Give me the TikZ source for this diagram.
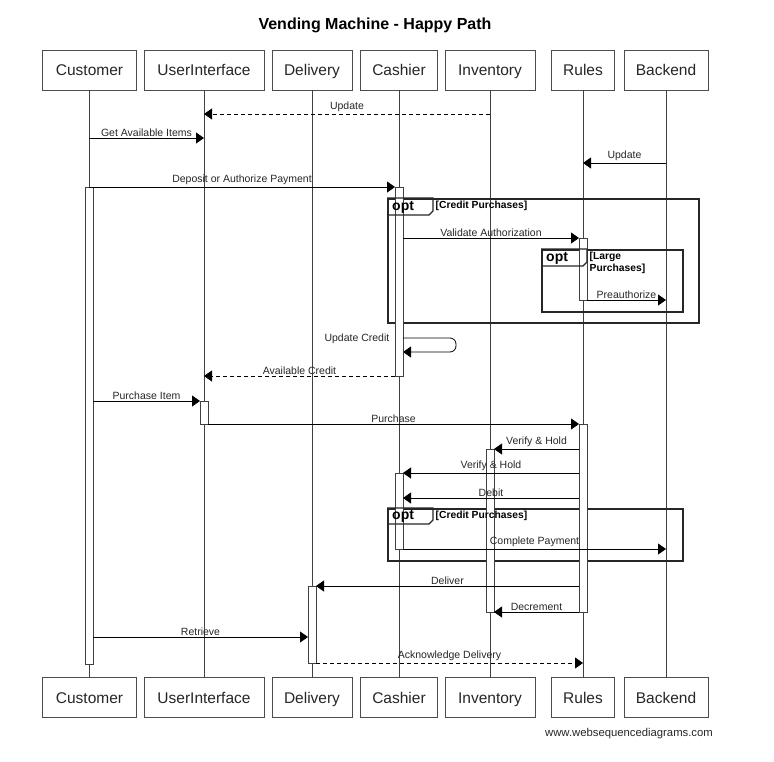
\documentclass[tikz,border=0pt]{standalone}
\usepackage{fontspec}
\setmainfont{Liberation Sans}
\usetikzlibrary{arrows.meta,positioning,calc}
\tikzset{
  actor box/.style = {
    shape = rectangle,
    align = center,
    draw  = black!70,
    fill  = white,
    minimum width = #1,
    minimum height = 40pt,
    inner sep = 0pt,
    text height = 11pt,
    text depth = 0pt,
    text = black!85,
    font = \fontsize{15.5}{18}\selectfont},
  act bar/.style = {
    draw = black!75,
    fill = white,
    minimum width = 8pt,
    minimum height = #1,
    inner sep = 0pt,
    anchor = north},
  lifeline/.style = {draw = black!75, line width = 0.8pt},
  msg/.style = {draw = black, line width = 0.8pt, ->},
  reply/.style = {msg, dash pattern = on 4pt off 3pt},
  lbl/.style = {above, inner sep = 1.5pt, text = black!85,
    font = \fontsize{10.5}{12}\selectfont},
  opt frame/.style = {
    draw = black!85, line width = 1.6pt,
    minimum width = #1, inner sep = 0pt, anchor = north west},
  opt tab/.style = {draw = black!85, line width = 1.2pt},
  opt text/.style = {anchor = west, inner sep = 0pt,
    font = \bfseries\fontsize{14}{16}\selectfont},
  guard/.style = {anchor = north west, inner sep = 0.5pt, align = left,
    font = \bfseries\fontsize{10.3}{12}\selectfont}
}

\begin{document}
\begin{tikzpicture}[x = 1pt, y = -1pt, >={Triangle[length = 8pt, width = 11pt]}]
  \useasboundingbox (0,0) rectangle (774,761);
  \node[font = \bfseries\fontsize{16}{19}\selectfont] (title) at (375,25) {Vending Machine - Happy Path};

  % participants
  \node[actor box = 94pt]  (custtop)  at (89.5,70) {Customer};
  \node[actor box = 120pt] (uitop)    at (204,70)  {UserInterface};
  \node[actor box = 80pt]  (delitop)  at (312,70)  {Delivery};
  \node[actor box = 77pt]  (cashtop)  at (399,70)  {Cashier};
  \node[actor box = 90pt]  (invtop)   at (490,70)  {Inventory};
  \node[actor box = 63pt]  (rulestop) at (583,70)  {Rules};
  \node[actor box = 84pt]  (backtop)  at (666,70)  {Backend};
  \node[actor box = 94pt]  (custbot)  at (89.5,697.5) {Customer};
  \node[actor box = 120pt] (uibot)    at (204,697.5)  {UserInterface};
  \node[actor box = 80pt]  (delibot)  at (312,697.5)  {Delivery};
  \node[actor box = 77pt]  (cashbot)  at (399,697.5)  {Cashier};
  \node[actor box = 90pt]  (invbot)   at (490,697.5)  {Inventory};
  \node[actor box = 63pt]  (rulesbot) at (583,697.5)  {Rules};
  \node[actor box = 84pt]  (backbot)  at (666,697.5)  {Backend};
  \draw[lifeline] (custtop) -- (custbot);
  \draw[lifeline] (uitop) -- (uibot);
  \draw[lifeline] (delitop) -- (delibot);
  \draw[lifeline] (cashtop) -- (cashbot);
  \draw[lifeline] (invtop) -- (invbot);
  \draw[lifeline] (rulestop) -- (rulesbot);
  \draw[lifeline] (backtop) -- (backbot);

  % opt frames
  \node[opt frame = 311pt, minimum height = 124pt] (optcredA) at (387,198) {};
  \node[opt frame = 141pt, minimum height = 62pt] (optlarge) at (541,249) {};
  \node[opt frame = 295pt, minimum height = 52pt] (optcredB) at (387,508) {};

  % activations
  \node[act bar = 477pt] (custact)  at (89,187)  {};
  \node[act bar = 189pt] (cashactA) at (399,187) {};
  \node[act bar = 62pt]  (rulesactA) at (583,238) {};
  \node[act bar = 23pt]  (uiact)    at (204,401) {};
  \node[act bar = 188pt] (rulesactB) at (583,424) {};
  \node[act bar = 163pt] (invact)   at (490,449) {};
  \node[act bar = 76pt]  (cashactB) at (399,473) {};
  \node[act bar = 77pt]  (deliact)  at (312,586) {};

  % opt tabs on top
  \draw[opt tab] (optcredA.north west) -- ++(46,0) -- ++(0,13) -- ++(-4,4) -- ++(-42,0);
  \node[opt text] (optcredAkey) at ($(optcredA.north west)+(5,9)$) {opt};
  \node[guard] (optcredAguard) at ($(optcredA.north west)+(48,2.5)$) {[Credit Purchases]};
  \draw[opt tab] (optlarge.north west) -- ++(46,0) -- ++(0,13) -- ++(-4,4) -- ++(-42,0);
  \node[opt text] (optlargekey) at ($(optlarge.north west)+(5,9)$) {opt};
  \node[guard] (optlargeguard) at ($(optlarge.north west)+(48,2.5)$) {[Large\\Purchases]};
  \draw[opt tab] (optcredB.north west) -- ++(46,0) -- ++(0,12) -- ++(-4,4) -- ++(-42,0);
  \node[opt text] (optcredBkey) at ($(optcredB.north west)+(5,8.5)$) {opt};
  \node[guard] (optcredBguard) at ($(optcredB.north west)+(48,2.5)$) {[Credit Purchases]};

  % messages
  \coordinate (m1a) at (490,114); \coordinate (m1b) at (204,114);
  \coordinate (m2a) at (89,138);  \coordinate (m2b) at (204,138);
  \coordinate (m3a) at (666,163); \coordinate (m3b) at (583,163);
  \coordinate (m4a) at (89,187);  \coordinate (m4b) at (395,187);
  \coordinate (m5a) at (403,238); \coordinate (m5b) at (579,238);
  \coordinate (m6a) at (587,300); \coordinate (m6b) at (666,300);
  \coordinate (m7a) at (403,338); \coordinate (m7b) at (403,352);
  \coordinate (m8a) at (395,376); \coordinate (m8b) at (204,376);
  \coordinate (m9a) at (93,401);  \coordinate (m9b) at (200,401);
  \coordinate (m10a) at (208,424); \coordinate (m10b) at (579,424);
  \coordinate (m11a) at (579,449); \coordinate (m11b) at (494,449);
  \coordinate (m12a) at (579,473); \coordinate (m12b) at (403,473);
  \coordinate (m13a) at (579,498); \coordinate (m13b) at (403,498);
  \coordinate (m14a) at (403,549); \coordinate (m14b) at (666,549);
  \coordinate (m15a) at (579,586); \coordinate (m15b) at (316,586);
  \coordinate (m16a) at (579,612); \coordinate (m16b) at (494,612);
  \coordinate (m17a) at (93,637);  \coordinate (m17b) at (308,637);
  \coordinate (m18a) at (316,663); \coordinate (m18b) at (583,663);

  \draw[reply] (m1a) -- node[lbl] {Update} (m1b);
  \draw[msg]   (m2a) -- node[lbl] {Get Available Items} (m2b);
  \draw[msg]   (m3a) -- node[lbl] {Update} (m3b);
  \draw[msg]   (m4a) -- node[lbl] {Deposit or Authorize Payment} (m4b);
  \draw[msg]   (m5a) -- node[lbl] {Validate Authorization} (m5b);
  \draw[msg]   (m6a) -- node[lbl] {Preauthorize} (m6b);
  \draw[msg, rounded corners = 6pt] (m7a) -- ++(53,0) -- ++(0,14) -- (m7b);
  \node[lbl, anchor = east] (updcredit) at ($(m7a)+(-12,1)$) {Update Credit};
  \draw[reply] (m8a) -- node[lbl] {Available Credit} (m8b);
  \draw[msg]   (m9a) -- node[lbl] {Purchase Item} (m9b);
  \draw[msg]   (m10a) -- node[lbl] {Purchase} (m10b);
  \draw[msg]   (m11a) -- node[lbl] {Verify \& Hold} (m11b);
  \draw[msg]   (m12a) -- node[lbl] {Verify \& Hold} (m12b);
  \draw[msg]   (m13a) -- node[lbl] {Debit} (m13b);
  \draw[msg]   (m14a) -- node[lbl] {Complete Payment} (m14b);
  \draw[msg]   (m15a) -- node[lbl] {Deliver} (m15b);
  \draw[msg]   (m16a) -- node[lbl] {Decrement} (m16b);
  \draw[msg]   (m17a) -- node[lbl] {Retrieve} (m17b);
  \draw[reply] (m18a) -- node[lbl] {Acknowledge Delivery} (m18b);

  \node[text = black!85, font = \fontsize{11.3}{13}\selectfont] (wsd) at (629,734) {www.websequencediagrams.com};
\end{tikzpicture}
\end{document}
